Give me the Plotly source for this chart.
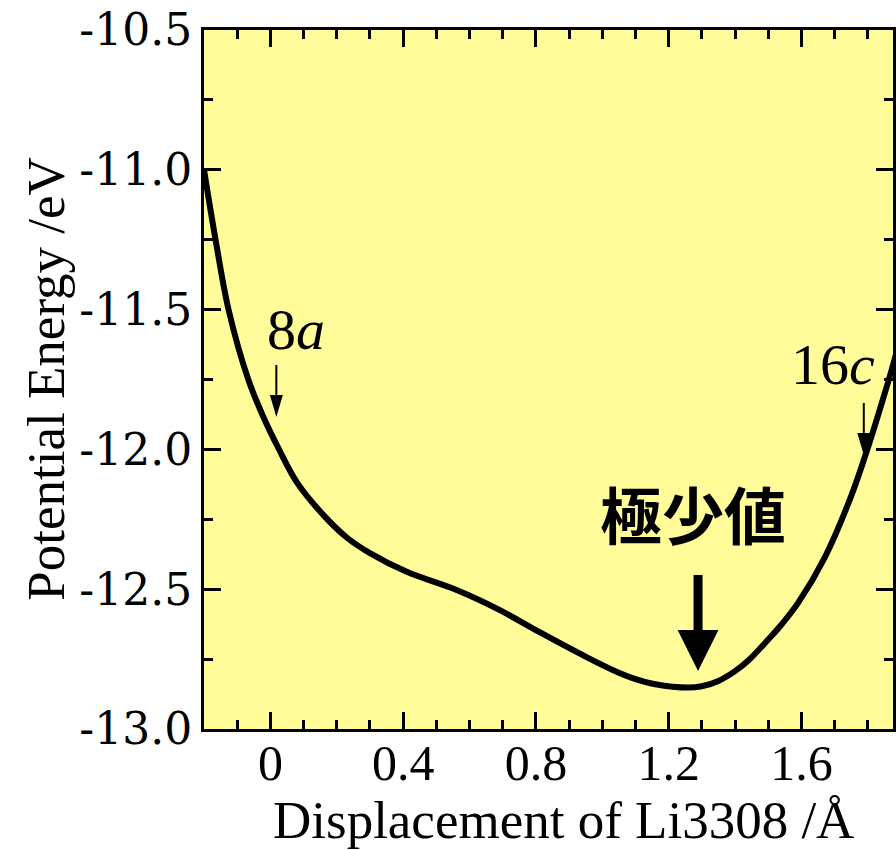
import plotly.graph_objects as go

# ---- data ----
displacement = [-0.2, -0.165, -0.126, -0.066, -0.021, 0.024, 0.081, 0.16, 0.23, 0.3,
                0.411, 0.561, 0.69, 0.81, 0.951, 1.05, 1.089, 1.16, 1.26, 1.30,
                1.35, 1.40, 1.44, 1.50, 1.539, 1.59, 1.671, 1.749, 1.80, 1.851,
                1.878, 1.9]
energy = [-11.0, -11.251, -11.5, -11.752, -11.884, -11.995, -12.12, -12.235, -12.315, -12.371,
          -12.438, -12.503, -12.574, -12.653, -12.742, -12.799, -12.817, -12.84, -12.852, -12.847,
          -12.828, -12.793, -12.755, -12.68, -12.628, -12.549, -12.385, -12.17, -11.995, -11.80,
          -11.69, -11.59]

y_tick_vals = [-10.5, -11.0, -11.5, -12.0, -12.5, -13.0]
y_tick_labels = ["-10.5", "-11.0", "-11.5", "-12.0", "-12.5", "-13.0"]
x_tick_vals = [0, 0.4, 0.8, 1.2, 1.6]
x_tick_labels = ["0", "0.4", "0.8", "1.2", "1.6"]

x_title = "Displacement of Li3308 /Å"
y_title = "Potential Energy /eV"
label_8a = "8<i>a</i>"
label_16c = "16<i>c</i>"
label_min = "極少値"

SERIF = "Liberation Serif"

fig = go.Figure()
fig.add_trace(go.Scatter(x=displacement, y=energy, mode="lines",
                         line=dict(color="black", width=6, shape="spline", smoothing=1.0),
                         showlegend=False, hoverinfo="skip"))

axis_common = dict(showline=True, linecolor="black", linewidth=3, mirror="allticks",
                   ticks="inside", ticklen=17, tickwidth=3, tickcolor="black",
                   showgrid=False, zeroline=False)

fig.update_xaxes(range=[-0.2, 1.876], tickvals=x_tick_vals, ticktext=x_tick_labels,
                 minor=dict(ticks="inside", ticklen=9, tickwidth=3, tickcolor="black", dtick=0.1, tick0=0),
                 tickfont=dict(family=SERIF, size=50, color="black"), ticklabelstandoff=-12,
                 **axis_common)
fig.update_yaxes(range=[-13.0, -10.5], tickvals=y_tick_vals, ticktext=y_tick_labels,
                 minor=dict(ticks="inside", ticklen=9, tickwidth=3, tickcolor="black", dtick=0.25, tick0=-13.0),
                 tickfont=dict(family="DejaVu Serif", size=44, color="black"),
                 **axis_common)

# axis titles as annotations (paper coordinates)
fig.add_annotation(xref="paper", yref="paper", x=0.5217, y=-0.130, text=x_title,
                   showarrow=False, xanchor="center", yanchor="middle",
                   font=dict(family=SERIF, size=53, color="black"))
fig.add_annotation(xref="paper", yref="paper", x=-0.2298, y=0.5007, text=y_title,
                   showarrow=False, xanchor="center", yanchor="middle", textangle=-90,
                   font=dict(family=SERIF, size=53, color="black"))

# arrows (shapes in data coordinates)
def arrow(x, y_top, y_base, y_tip, shaft_w, half_head):
    fig.add_shape(type="line", x0=x, x1=x, y0=y_top, y1=y_base, xref="x", yref="y",
                  line=dict(color="black", width=shaft_w))
    fig.add_shape(type="path", xref="x", yref="y",
                  path=f"M{x-half_head},{y_base} L{x+half_head},{y_base} L{x},{y_tip} Z",
                  fillcolor="black", line=dict(color="black", width=0))

arrow(0.018, -11.698, -11.805, -11.884, 2, 0.0195)
arrow(1.788, -11.834, -11.941, -12.020, 2, 0.0195)
arrow(1.2886, -12.449, -12.646, -12.793, 9, 0.0615)

fig.add_annotation(x=0.078, y=-11.57, text=label_8a, showarrow=False,
                   font=dict(family=SERIF, size=58, color="black"))
fig.add_annotation(x=1.695, y=-11.695, text=label_16c, showarrow=False,
                   font=dict(family=SERIF, size=58, color="black"))
fig.add_annotation(x=1.274, y=-12.228, text=f"<b>{label_min}</b>", showarrow=False,
                   font=dict(family="Noto Sans CJK JP", size=62, color="black"))

fig.update_layout(width=896, height=850,
                  margin=dict(l=204, r=0, t=30, b=121),
                  plot_bgcolor="#FFFC99", paper_bgcolor="white")

fig.write_html("out.html")
